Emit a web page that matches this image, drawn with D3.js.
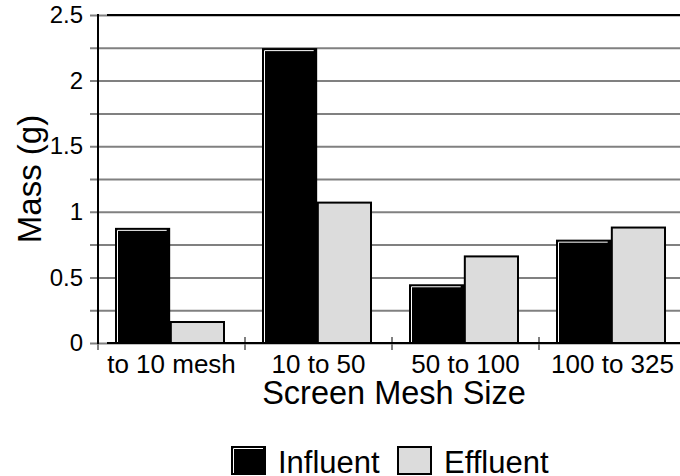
<!DOCTYPE html>
<html>
<head>
<meta charset="utf-8">
<script src="https://cdn.jsdelivr.net/npm/d3@7"></script>
<style>
  body { margin: 0; background: #fff; }
  svg { display: block; font-family: "Liberation Sans", Arial, sans-serif; }
</style>
</head>
<body>
<div id="canvas"></div>
<script>
// data
var categories = ["to 10 mesh", "10 to 50", "50 to 100", "100 to 325"];
var seriesNames = ["Influent", "Effluent"];
var influent = [0.87, 2.24, 0.44, 0.78];
var effluent = [0.16, 1.07, 0.66, 0.88];
var yTicks = [0, 0.25, 0.5, 0.75, 1, 1.25, 1.5, 1.75, 2, 2.25, 2.5];

var W = 680, H = 476;
var m = {l: 98, r: 686, t: 15, b: 343};

var svg = d3.select('#canvas').append('svg')
    .attr('width', W).attr('height', H);

var x = d3.scaleBand().domain(categories).range([m.l, m.r]);
var xs = d3.scaleBand().domain(seriesNames).range([18, 126]).paddingInner(0.03);
var y = d3.scaleLinear().domain([0, 2.5]).range([m.b, m.t]);
var fill = d3.scaleOrdinal().domain(seriesNames).range(['#000000', '#dcdcdc']);

var rows = categories.map(function(c, i){
    return {cat: c, values: [{s: 'Influent', v: influent[i]}, {s: 'Effluent', v: effluent[i]}]};
});

// gridlines + y labels
var yAxis = svg.append('g')
    .attr('transform', 'translate(' + m.r + ',0)')
    .call(d3.axisLeft(y).tickValues(yTicks).tickSize(m.r - 90).tickPadding(7)
        .tickFormat(function(d){ return d % 0.5 === 0 ? String(d) : ''; }));
yAxis.select('.domain').remove();
yAxis.selectAll('line').attr('stroke', '#808080').attr('stroke-width', 2);
yAxis.selectAll('text').attr('font-size', 24).attr('fill', '#000')
    .attr('font-family', '"Liberation Sans", Arial, sans-serif');

// category boundary ticks
svg.append('g').selectAll('line')
    .data(categories).enter().append('line')
    .attr('x1', function(d){ return x(d); }).attr('x2', function(d){ return x(d); })
    .attr('y1', m.b - 6).attr('y2', m.b + 7)
    .attr('stroke', '#808080').attr('stroke-width', 2);

// bars
var groups = svg.append('g').selectAll('g')
    .data(rows).enter().append('g')
    .attr('transform', function(d){ return 'translate(' + x(d.cat) + ',0)'; });

groups.selectAll('rect')
    .data(function(d){ return d.values; }).enter().append('rect')
    .attr('x', function(d){ return xs(d.s); })
    .attr('y', function(d){ return y(d.v); })
    .attr('width', xs.bandwidth())
    .attr('height', function(d){ return y(0) - y(d.v); })
    .attr('fill', function(d){ return fill(d.s); })
    .attr('stroke', '#000').attr('stroke-width', 2);

// white highlight inside the black bars
groups.selectAll('path')
    .data(function(d){ return d.values.filter(function(v){ return v.s === 'Influent'; }); })
    .enter().append('path')
    .attr('d', function(d){
        var x0 = xs(d.s) + 1.5, y0 = y(d.v) + 1.5, x1 = xs(d.s) + xs.bandwidth() - 2.5;
        return 'M' + x0 + ',' + (y(0) - 1) + 'V' + y0 + 'H' + x1;
    })
    .attr('fill', 'none').attr('stroke', '#fff').attr('stroke-width', 1);

// frame
svg.append('line').attr('x1', m.l).attr('x2', m.l).attr('y1', m.t - 1).attr('y2', m.b + 1)
    .attr('stroke', '#000').attr('stroke-width', 2);
svg.append('line').attr('x1', 107).attr('x2', m.r).attr('y1', y(2.5)).attr('y2', y(2.5))
    .attr('stroke', '#000').attr('stroke-width', 2);
svg.append('line').attr('x1', 107).attr('x2', m.r).attr('y1', y(0)).attr('y2', y(0))
    .attr('stroke', '#000').attr('stroke-width', 2);

// category labels
var xAxis = svg.append('g')
    .attr('transform', 'translate(0,' + m.b + ')')
    .call(d3.axisBottom(x).tickSize(0).tickPadding(12));
xAxis.select('.domain').remove();
xAxis.selectAll('text').attr('font-size', 26).attr('fill', '#000')
    .attr('font-family', '"Liberation Sans", Arial, sans-serif');

// axis titles
svg.append('text').attr('x', (m.l + m.r) / 2 + 2).attr('y', 404)
    .attr('text-anchor', 'middle').attr('font-size', 32.5).text('Screen Mesh Size');
svg.append('text').attr('transform', 'translate(41,179) rotate(-90)')
    .attr('text-anchor', 'middle').attr('font-size', 33).text('Mass (g)');

// legend
var legendX = [232, 398];
var legend = svg.append('g').selectAll('g')
    .data(seriesNames).enter().append('g')
    .attr('transform', function(d, i){ return 'translate(' + legendX[i] + ',447)'; });
legend.append('rect').attr('width', 33).attr('height', 27)
    .attr('fill', function(d){ return fill(d); })
    .attr('stroke', '#000').attr('stroke-width', 2);
legend.filter(function(d){ return d === 'Influent'; }).append('path')
    .attr('d', 'M1.5,26V1.5H31').attr('fill', 'none').attr('stroke', '#fff').attr('stroke-width', 1);
legend.append('text').attr('x', 46).attr('y', 26).attr('font-size', 31).text(function(d){ return d; });
</script>
</body>
</html>
